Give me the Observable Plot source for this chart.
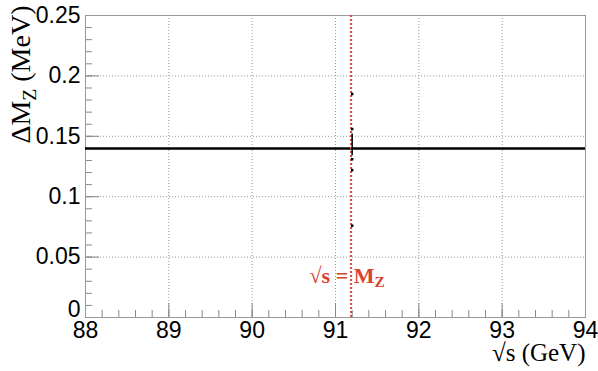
<!DOCTYPE html>
<html><head><meta charset="utf-8">
<script src="https://cdn.jsdelivr.net/npm/d3@7"></script>
<script src="https://cdn.jsdelivr.net/npm/@observablehq/plot@0.6"></script>
<style>body{margin:0;background:#fff}</style>
</head><body><div id="chart"></div>
<script>
// ---- data ----
const xTicks = [88, 89, 90, 91, 92, 93, 94];
const yTicks = [0.05, 0.1, 0.15, 0.2, 0.25];
const yZeroTick = [0];
const xMinorTicks = d3.ticks(88, 94, 30);      // every 0.2 GeV
const yMinorTicks = d3.ticks(0, 0.25, 25);     // every 0.01 MeV
const mZ = 91.1876;                           // sqrt(s) = M_Z
const deltaMZ = 0.14;                         // horizontal reference level
const measX = [91.2, 91.2, 91.2, 91.2, 91.2];
const measY = [0.185, 0.156, 0.131, 0.122, 0.076];
const barX = [91.2];
const barLo = [0.134];
const barHi = [0.152];
const xTitle = "√s (GeV)";
const yTitle = "ΔM_Z (MeV)";
const zLabel = "√s = M_Z";

const red = "#d9432e";
const serif = "'Liberation Serif', 'Times New Roman', serif";
const W = 598, H = 371, mL = 85, mR = 13, mT = 15, mB = 54;
const fw = W - mL - mR, fh = H - mT - mB;

const meas = measX.map((x, i) => ({x, y: measY[i]}));
const bars = barX.map((x, i) => ({x, y1: barLo[i], y2: barHi[i]}));
const allY = yZeroTick.concat(yTicks);

const plot = Plot.plot({
  width: W, height: H,
  marginLeft: mL, marginRight: mR, marginTop: mT, marginBottom: mB,
  x: {domain: [88, 94]},
  y: {domain: [0, 0.25]},
  style: {fontFamily: "'Liberation Sans', Arial, sans-serif", fontSize: "23px", color: "#000", background: "#fff"},
  marks: [
    Plot.gridX(xTicks, {stroke: "#999", strokeOpacity: 1, strokeDasharray: "1,2"}),
    Plot.gridY(yTicks, {stroke: "#999", strokeOpacity: 1, strokeDasharray: "1,2"}),
    // minor ticks (inward)
    Plot.ruleX(xMinorTicks, {stroke: "#888", insetTop: fh - 7}),
    Plot.ruleY(yMinorTicks, {stroke: "#888", insetRight: fw - 7}),
    // major ticks (inward)
    Plot.ruleX(xTicks, {stroke: "#888", insetTop: fh - 14}),
    Plot.ruleY(allY, {stroke: "#888", insetRight: fw - 14}),
    Plot.axisX(xTicks, {tickSize: 0, tickPadding: 4, label: null, tickFormat: d => String(d)}),
    Plot.axisY(yTicks, {tickSize: 0, tickPadding: 5, label: null, tickFormat: d => String(d)}),
    Plot.axisY(yZeroTick, {tickSize: 0, tickPadding: 5, label: null, dy: -8, tickFormat: d => String(d)}),
    Plot.frame({stroke: "#999"}),
    // horizontal level
    Plot.ruleY([deltaMZ], {stroke: "#000", strokeWidth: 2.5}),
    // sqrt(s) = M_Z line
    Plot.ruleX([mZ], {stroke: red, strokeWidth: 2, strokeDasharray: "2,2"}),
    // measurements
    Plot.ruleX(bars, {x: "x", y1: "y1", y2: "y2", stroke: "#000", strokeWidth: 1.5}),
    Plot.dot(meas, {x: "x", y: "y", r: 1.4, fill: "#000", stroke: "none", symbol: "square"}),
    // labels
    Plot.text([zLabel], {x: [mZ], text: d => d, frameAnchor: "bottom", dy: -35, dx: -4,
      fill: red, fontWeight: "bold", fontFamily: serif, fontSize: 22}),
    Plot.text([yTitle], {text: d => d, frameAnchor: "top-left", rotate: -90, textAnchor: "end",
      dx: -75, dy: -10, fill: "#000", fontFamily: serif, fontSize: 28}),
    Plot.text([xTitle], {text: d => d, frameAnchor: "bottom-right", textAnchor: "end",
      dy: 43, fill: "#000", fontFamily: serif, fontSize: 25})
  ]
});

// subscripts
d3.select(plot).selectAll("text").each(function () {
  const t = this.textContent;
  if (t.includes("_Z")) {
    const [a, b] = t.split("_Z");
    const sel = d3.select(this);
    sel.text(null);
    sel.append("tspan").text(a);
    sel.append("tspan").attr("dy", "0.3em").attr("font-size", "70%").text("Z");
    sel.append("tspan").attr("dy", "-0.21em").text(b);
  }
});

document.getElementById("chart").appendChild(plot);
</script>
</body></html>
